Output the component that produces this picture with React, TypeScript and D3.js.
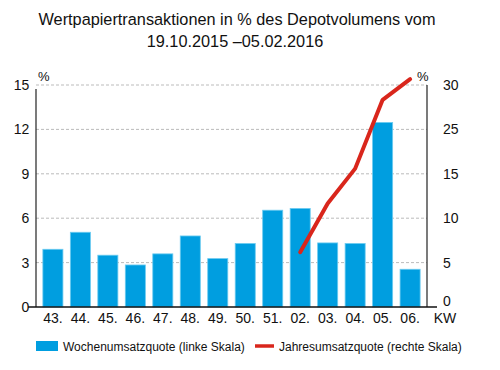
import React from 'react';
import * as d3 from 'd3';

const weeks = ['43.', '44.', '45.', '46.', '47.', '48.', '49.', '50.', '51.', '02.', '03.', '04.', '05.', '06.'];
const weeklyRate = [3.9, 5.05, 3.5, 2.84, 3.59, 4.8, 3.27, 4.29, 6.54, 6.66, 4.33, 4.29, 12.47, 2.55];
const yearWeeks = ['02.', '03.', '04.', '05.', '06.'];
const yearlyRate = [7.4, 14.0, 18.7, 28.0, 30.8];
const leftTicks = [0, 3, 6, 9, 12, 15];
const rightTickLabels = ['0', '5', '10', '15', '25', '30'];

const font = '"Liberation Sans", Arial, sans-serif';
const blue = '#009ee0';
const red = '#d9261c';

const App: React.FC = () => {
  const margin = { top: 85, right: 73, bottom: 63, left: 36 };
  const width = 500 - margin.left - margin.right;
  const height = 370 - margin.top - margin.bottom;

  const x = d3.scaleBand()
    .domain(weeks)
    .range([0, width])
    .paddingInner(0.27)
    .paddingOuter(0.25);

  const y = d3.scaleLinear().domain([0, 15]).range([height, 0]);
  const y2 = d3.scaleLinear().domain([0, 30]).range([height, 0]);

  const line = d3.line<number>()
    .x((_, i) => (x(yearWeeks[i]) || 0) + x.bandwidth() / 2)
    .y(d => y2(d));

  return (
    <svg width={500} height={370} style={{ position: 'absolute', left: 0, top: 0, background: '#fff' }} fontFamily={font}>
      <text x={237} y={25} textAnchor="middle" fontSize={16.3} fill="#111">
        Wertpapiertransaktionen in % des Depotvolumens vom
      </text>
      <text x={235} y={47} textAnchor="middle" fontSize={16.3} fill="#111">
        19.10.2015 –05.02.2016
      </text>

      <g transform={`translate(${margin.left},${margin.top})`}>
        {leftTicks.filter(t => t > 0).map(t => (
          <line key={t} x1={0} x2={width} y1={y(t)} y2={y(t)}
            stroke="#aaa" strokeWidth={0.8} strokeDasharray="3,2" />
        ))}

        {weeklyRate.map((v, i) => (
          <rect key={weeks[i]} x={x(weeks[i])} y={y(v)} width={x.bandwidth()} height={height - y(v)}
            fill={blue} stroke="#6ccbf0" strokeWidth={0.8} />
        ))}

        <line x1={0} x2={0} y1={4} y2={height} stroke="#222" strokeWidth={1.2} />
        <line x1={width} x2={width} y1={0} y2={height} stroke="#222" strokeWidth={1.2} />
        <line x1={-8} x2={width + 10} y1={height} y2={height} stroke="#111" strokeWidth={1.5} />

        <path d={line(yearlyRate) || ''} fill="none" stroke={red} strokeWidth={4} strokeLinecap="round" strokeLinejoin="round" />

        {leftTicks.map(t => (
          <text key={t} x={-6} y={y(t)} dy="0.35em" textAnchor="end" fontSize={14} fill="#111"
            transform={`translate(${-6 * 0.12},0)`}>{t}</text>
        ))}
        {rightTickLabels.map((label, i) => (
          <text key={label} x={width + 16} y={y(leftTicks[i]) - (i === 0 ? 6 : 0)} dy="0.35em" fontSize={14} fill="#111">{label}</text>
        ))}
        <text x={2} y={-4} fontSize={13} fill="#111">%</text>
        <text x={width - 10} y={-4} fontSize={13} fill="#111">%</text>

        {weeks.map(w => (
          <text key={w} x={(x(w) || 0) + x.bandwidth() / 2} y={height + 16} textAnchor="middle" fontSize={14} fill="#111">{w}</text>
        ))}
        <text x={width + 18} y={height + 16} textAnchor="middle" fontSize={14} fill="#111">KW</text>
      </g>

      <rect x={36} y={341} width={22} height={10} fill={blue} />
      <text x={63} y={351} fontSize={12} fill="#111">Wochenumsatzquote (linke Skala)</text>
      <line x1={255} x2={274} y1={346} y2={346} stroke={red} strokeWidth={3.5} />
      <text x={279} y={351} fontSize={12} fill="#111">Jahresumsatzquote (rechte Skala)</text>
    </svg>
  );
};

export default App;
